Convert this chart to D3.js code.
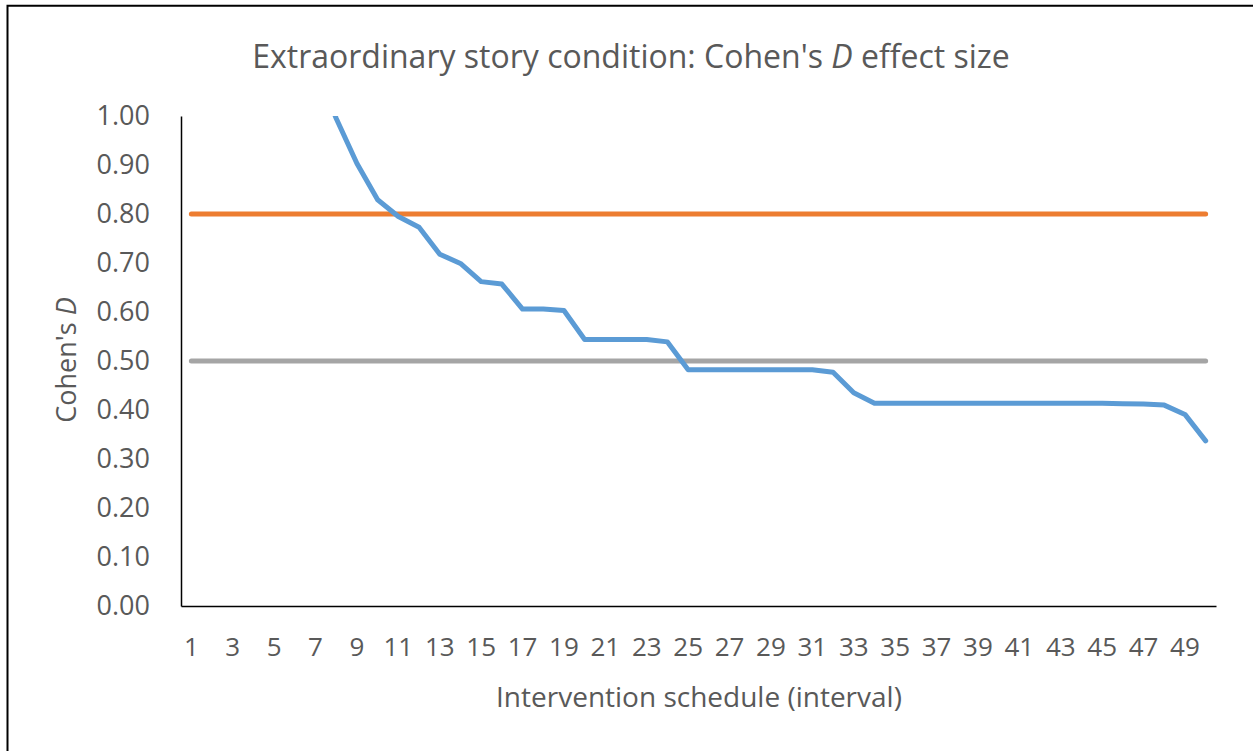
<!DOCTYPE html>
<html>
<head>
<meta charset="utf-8">
<script src="https://cdn.jsdelivr.net/npm/d3@7"></script>
<style>
  body { margin: 0; background: #fff; }
  svg { display: block; }
</style>
</head>
<body>
<div id="chart"></div>
<script>
// Intervals 1..50 and the effect size (1-7 lie above the axis max and are clipped)
const intervals = d3.range(1, 51);
const cohensD = [
    2.60, 1.90, 1.55, 1.36, 1.24, 1.16, 1.10, 0.995, 0.903, 0.829,
    0.795, 0.773, 0.718, 0.699, 0.662, 0.657, 0.606, 0.606, 0.603, 0.544,
    0.544, 0.544, 0.544, 0.539, 0.482, 0.482, 0.482, 0.482, 0.482, 0.482,
    0.482, 0.477, 0.435, 0.414, 0.414, 0.414, 0.414, 0.414, 0.414, 0.414,
    0.414, 0.414, 0.414, 0.414, 0.414, 0.413, 0.412, 0.410, 0.391, 0.337
];
const largeEffect = 0.80;
const mediumEffect = 0.50;
const yTicks = [0, 0.1, 0.2, 0.3, 0.4, 0.5, 0.6, 0.7, 0.8, 0.9, 1.0];
const xTickLabels = intervals.filter(d => d % 2 === 1);

const width = 1253, height = 751;
const margin = { top: 116, right: 37, bottom: 145, left: 181 };
const innerW = width - margin.left - margin.right;
const innerH = height - margin.top - margin.bottom;
const font = "'Open Sans', sans-serif";
const textColor = "#595959";

const svg = d3.select("#chart").append("svg")
    .attr("width", width)
    .attr("height", height);

// Frame (only top and left edges are visible in the reference)
svg.append("path")
    .attr("d", `M7.5,${height} V5.7 H${width}`)
    .attr("fill", "none")
    .attr("stroke", "#000")
    .attr("stroke-width", 2);

const g = svg.append("g")
    .attr("transform", `translate(${margin.left},${margin.top})`);

const x = d3.scaleBand()
    .domain(intervals)
    .range([0, innerW]);

const y = d3.scaleLinear()
    .domain([0, 1])
    .range([innerH, 0]);

// Title
svg.append("text")
    .attr("x", 631)
    .attr("y", 68)
    .attr("text-anchor", "middle")
    .style("font-family", font)
    .style("font-size", "32px")
    .style("fill", textColor)
    .call(t => {
        t.append("tspan").text("Extraordinary story condition: Cohen's ");
        t.append("tspan").style("font-style", "italic").text("D");
        t.append("tspan").text(" effect size");
    });

// Y axis
const yAxis = g.append("g")
    .call(d3.axisLeft(y).tickValues(yTicks).tickFormat(d3.format(".2f")).tickSize(0).tickPadding(31));
yAxis.select(".domain").attr("stroke", "#000").attr("stroke-width", 1.5);
yAxis.selectAll("text")
    .style("font-family", font)
    .style("font-size", "27px")
    .style("fill", textColor);

// X axis
const xAxis = g.append("g")
    .attr("transform", `translate(0,${innerH})`)
    .call(d3.axisBottom(x).tickValues(xTickLabels).tickSize(0).tickPadding(32));
xAxis.select(".domain").attr("stroke", "#000").attr("stroke-width", 1.5);
xAxis.selectAll("text")
    .style("font-family", font)
    .style("font-size", "26px")
    .style("fill", textColor);

// Axis titles
svg.append("text")
    .attr("x", 699)
    .attr("y", 707)
    .attr("text-anchor", "middle")
    .style("font-family", font)
    .style("font-size", "28px")
    .style("fill", textColor)
    .text("Intervention schedule (interval)");

svg.append("text")
    .attr("transform", "translate(76,360) rotate(-90)")
    .attr("text-anchor", "middle")
    .style("font-family", font)
    .style("font-size", "27px")
    .style("fill", textColor)
    .call(t => {
        t.append("tspan").text("Cohen's ");
        t.append("tspan").style("font-style", "italic").text("D");
    });

// Clip to plot area
g.append("clipPath").attr("id", "plot-clip")
    .append("rect")
    .attr("x", 0).attr("y", 0)
    .attr("width", innerW).attr("height", innerH);

const cx = d => x(d) + x.bandwidth() / 2;

const line = d3.line()
    .x((d, i) => cx(intervals[i]))
    .y(d => y(d));

const plot = g.append("g").attr("clip-path", "url(#plot-clip)");

// Reference lines
plot.append("path")
    .datum(intervals.map(() => largeEffect))
    .attr("d", line)
    .attr("fill", "none")
    .attr("stroke", "#ED7D31")
    .attr("stroke-width", 5)
    .attr("stroke-linecap", "round");

plot.append("path")
    .datum(intervals.map(() => mediumEffect))
    .attr("d", line)
    .attr("fill", "none")
    .attr("stroke", "#A5A5A5")
    .attr("stroke-width", 5)
    .attr("stroke-linecap", "round");

// Effect size line
plot.append("path")
    .datum(cohensD)
    .attr("d", line)
    .attr("fill", "none")
    .attr("stroke", "#5B9BD5")
    .attr("stroke-width", 5)
    .attr("stroke-linejoin", "round")
    .attr("stroke-linecap", "round");
</script>
</body>
</html>
